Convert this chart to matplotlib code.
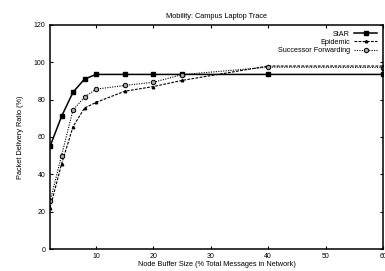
import numpy as np
import matplotlib
matplotlib.use("Agg")
import matplotlib.pyplot as plt

plt.rcParams['font.family'] = ['Liberation Sans', 'DejaVu Sans']

# buffer size (% of total messages in network)
buffer_size = [2, 4, 6, 8, 10, 15, 20, 25, 40, 60]

star = [55, 71, 84, 91, 93.5, 93.5, 93.5, 93.5, 93.5, 93.5]
epidemic = [22, 45.5, 65.5, 75.5, 78.5, 84.5, 87, 90.3, 98, 98]
successor = [25.5, 50, 74.5, 81.3, 85.6, 87.6, 89.3, 93.4, 97.4, 97.2]

labels = ["StAR", "Epidemic", "Successor Forwarding"]

fig = plt.figure(figsize=(3.85, 2.71), dpi=100)
ax = fig.add_axes([0.130, 0.081, 0.865, 0.827])

ax.plot(buffer_size, star, color="black", lw=1.1, ls="-",
        marker="s", ms=3.2, mfc="black", mec="black", label=labels[0])
ax.plot(buffer_size, epidemic, color="black", lw=0.8, ls=(0, (2.5, 1.2)),
        marker="^", ms=1.8, mfc="black", mec="black", label=labels[1])
ax.plot(buffer_size, successor, color="black", lw=0.8, ls=(0, (1, 1.2)),
        marker="o", ms=3.2, mfc="0.65", mec="black", mew=0.7, label=labels[2])

ax.set_xlim(2, 60)
ax.set_ylim(0, 120)
ax.set_xticks([10, 20, 30, 40, 50, 60])
ax.set_yticks([0, 20, 40, 60, 80, 100, 120])

ax.tick_params(direction="in", length=2.5, width=0.8, labelsize=5,
               top=True, right=True)
ax.tick_params(axis="y", pad=3.5)
ax.tick_params(axis="x", pad=2.5)
for s in ax.spines.values():
    s.set_linewidth(1.1)

ax.set_title("Mobility: Campus Laptop Trace", fontsize=5.3, pad=5)
ax.set_xlabel("Node Buffer Size (% Total Messages in Network)", fontsize=5.3, labelpad=1)
ax.set_ylabel("Packet Delivery Ratio (%)", fontsize=5.3, labelpad=7)

leg = ax.legend(loc="upper right", frameon=False, markerfirst=False,
                fontsize=5.2, handlelength=3.2, handletextpad=0.6,
                labelspacing=0.15, borderaxespad=0.4)

fig.savefig("out.png", dpi=100)
